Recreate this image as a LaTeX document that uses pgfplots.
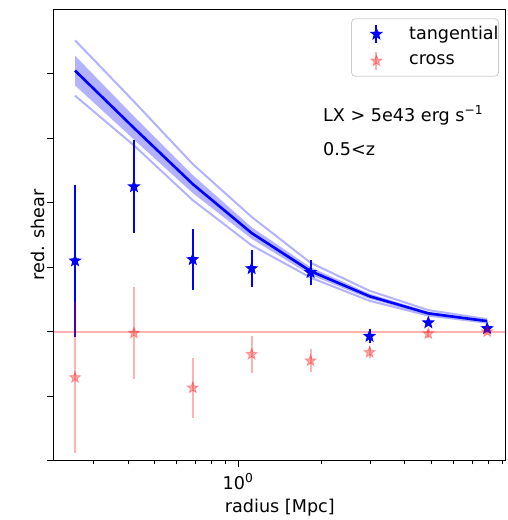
\documentclass[border=0pt]{standalone}
\usepackage{fontspec}
\setmainfont{DejaVu Sans}
\usepackage{pgfplots}
\usepackage{pgfplotstable}
\pgfplotsset{compat=1.18}
\usepgfplotslibrary{fillbetween}

% filled five-point star, like matplotlib's '*'
\pgfdeclareplotmark{fstar}{%
  \pgfpathmoveto{\pgfpointpolar{90}{\pgfplotmarksize}}%
  \pgfpathlineto{\pgfpointpolar{126}{0.42\pgfplotmarksize}}%
  \pgfpathlineto{\pgfpointpolar{162}{\pgfplotmarksize}}%
  \pgfpathlineto{\pgfpointpolar{198}{0.42\pgfplotmarksize}}%
  \pgfpathlineto{\pgfpointpolar{234}{\pgfplotmarksize}}%
  \pgfpathlineto{\pgfpointpolar{270}{0.42\pgfplotmarksize}}%
  \pgfpathlineto{\pgfpointpolar{306}{\pgfplotmarksize}}%
  \pgfpathlineto{\pgfpointpolar{342}{0.42\pgfplotmarksize}}%
  \pgfpathlineto{\pgfpointpolar{18}{\pgfplotmarksize}}%
  \pgfpathlineto{\pgfpointpolar{54}{0.42\pgfplotmarksize}}%
  \pgfpathclose
  \pgfusepathqfillstroke}

\pgfplotstableread{
r      tan   etan  crs    ecrs
0.2573 1.10  1.18  -0.71  1.17
0.420  2.25  0.72  -0.02  0.715
0.685  1.12  0.47  -0.87  0.47
1.118  0.98  0.29  -0.35  0.29
1.825  0.92  0.19  -0.45  0.18
2.98   -0.07 0.11  -0.32  0.095
4.86   0.14  0.05  -0.03  0.06
7.93   0.05  0.03  0.00   0.03
}\shear

\pgfplotstableread{
r      mid   blo   bhi   olo   ohi
0.2573 4.05  3.82  4.28  3.66  4.52
0.420  3.16  2.98  3.34  2.89  3.57
0.685  2.29  2.15  2.43  2.04  2.60
1.118  1.53  1.44  1.62  1.34  1.78
1.825  0.94  0.88  1.00  0.84  1.07
2.98   0.55  0.51  0.59  0.48  0.635
4.86   0.285 0.26  0.31  0.25  0.335
7.93   0.165 0.15  0.18  0.14  0.195
}\model

\begin{document}
\fontsize{8.8pt}{10.6pt}\selectfont
\begin{tikzpicture}
\begin{axis}[
  at={(0pt,0pt)}, anchor=south west,
  scale only axis, width=225.85pt, height=225.7pt,
  xmode=log, xmin=0.216, xmax=9.25, ymin=-2, ymax=5,
  xtick={1}, xticklabels={10\textsuperscript{0}},
  minor xtick={0.3,0.4,0.5,0.6,0.7,0.8,0.9,2,3,4,5,6,7,8,9},
  ytick={-2,-1,0,1,2,3,4}, yticklabels={},
  tick align=outside, tick pos=left,
  major tick length=3.4pt, minor tick length=1.8pt,
  tick style={black, line width=0.5pt},
  axis line style={line width=0.5pt},
  xticklabel style={anchor=base, yshift=-11.2pt},
  xlabel={radius [Mpc]},
  xlabel style={at={(axis description cs:0.5,0)}, anchor=base, yshift=-26pt},
  ylabel={red. shear},
  ylabel style={at={(axis description cs:0,0.5)}, anchor=center, inner sep=0pt, yshift=8pt},
  legend style={at={(axis description cs:1,1)}, anchor=north east,
    xshift=-3.35pt, yshift=-4.5pt, draw=black!20, rounded corners=2pt,
    fill=white, inner xsep=0pt, inner ysep=1pt, nodes={inner sep=0pt}},
  legend cell align=left,
  legend image code/.code={
    \path[draw=none, fill=none] (0pt,-6.7pt) rectangle (28.85pt,6.7pt);
    \draw[sharp corners, #1, mark=none, line width=1pt]
      (12.5pt,-4.35pt) -- (12.5pt,4.35pt);
    \draw[sharp corners, #1, only marks]
      plot coordinates {(12.5pt,0pt)};
  },
]
% zero line
\addplot[red, opacity=0.3, line width=1pt, forget plot] coordinates {(0.216,0) (9.25,0)};

% model band and spread
\addplot[name path=bl, draw=none, forget plot] table[x=r, y=blo] {\model};
\addplot[name path=bh, draw=none, forget plot] table[x=r, y=bhi] {\model};
\addplot[blue, fill opacity=0.3, draw=none, forget plot] fill between[of=bl and bh];
\addplot[blue, opacity=0.3, line width=1pt, forget plot] table[x=r, y=olo] {\model};
\addplot[blue, opacity=0.3, line width=1pt, forget plot] table[x=r, y=ohi] {\model};
\addplot[blue, line width=1.3pt, forget plot] table[x=r, y=mid] {\model};

% measurements
\addplot[blue, only marks, mark=fstar, mark size=2.8pt, mark options={line width=0.5pt},
  error bars/.cd, y dir=both, y explicit, error mark=none,
  error bar style={line width=1pt}]
  table[x=r, y=tan, y error=etan] {\shear};
\addlegendentry{tangential\hspace{4.3pt}}

\addplot[red, opacity=0.3, only marks, mark=fstar, mark size=2.8pt,
  mark options={line width=0.5pt, opacity=0.3},
  error bars/.cd, y dir=both, y explicit, error mark=none,
  error bar style={line width=1pt}]
  table[x=r, y=crs, y error=ecrs] {\shear};
\addlegendentry{cross}

\node[anchor=base west, inner sep=0pt] at (axis description cs:0.595,0.751) {LX > 5e43 erg s\textsuperscript{−1}};
\node[anchor=base west, inner sep=0pt] at (axis description cs:0.595,0.677) {0.5<z};
\end{axis}
\pgfresetboundingbox
\path[use as bounding box] (-27pt,-29.65pt) rectangle (227pt,230.35pt);
\end{tikzpicture}
\end{document}
